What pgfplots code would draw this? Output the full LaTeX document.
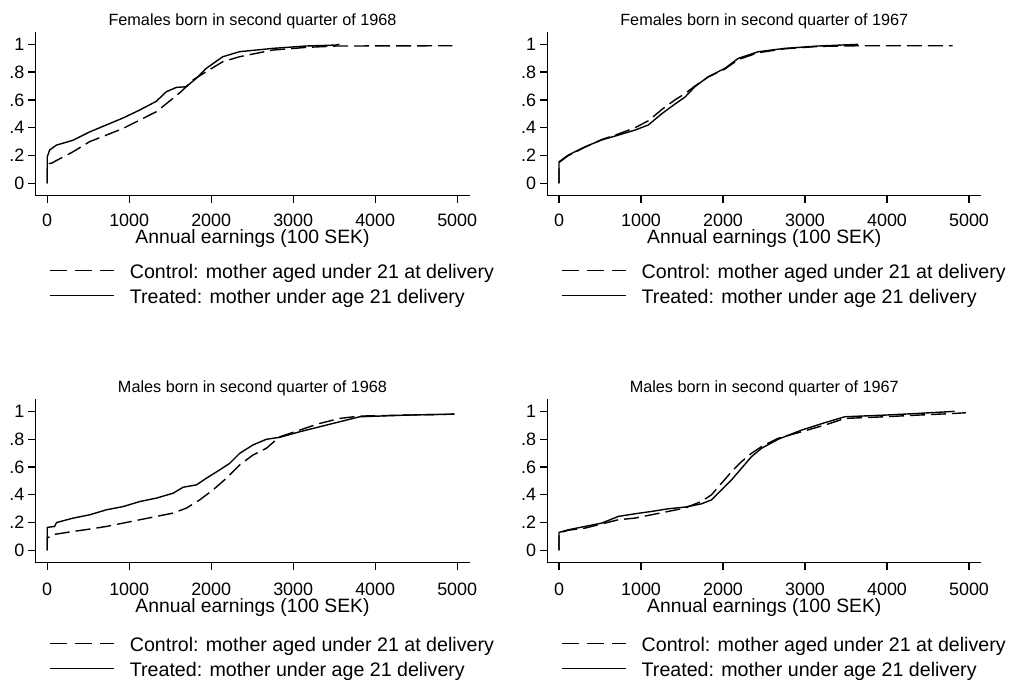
\documentclass[border=0pt]{standalone}
\usepackage{fontspec}
\setmainfont{Liberation Sans}
\usepackage{pgfplots}
\pgfplotsset{compat=1.18}

\pgfplotsset{
  stata/.style={
    width=434bp, height=164bp, scale only axis,
    xmin=-143, xmax=5150, ymin=-0.089, ymax=1.091,
    axis x line*=bottom, axis y line*=left,
    axis line style={line width=1.3bp, black},
    tick align=outside, major tick length=7bp,
    tick style={line width=1.3bp, black},
    xtick={0,1000,2000,3000,4000,5000},
    xticklabels={0,1000,2000,3000,4000,5000},
    ytick={0,0.2,0.4,0.6,0.8,1},
    yticklabels={0,.2,.4,.6,.8,1},
    /pgf/number format/assume math mode=true,
    ticklabel style={font=\fontsize{18}{18}\selectfont},
    xticklabel style={anchor=base, yshift=-23.3bp},
    yticklabel style={anchor=east, inner sep=0pt, xshift=-4bp},
    title style={at={(axis description cs:0.5,1)}, anchor=base, yshift=0.7bp,
      font=\fontsize{16.3}{16.3}\selectfont},
    xlabel={Annual earnings (100 SEK)},
    xlabel style={at={(axis description cs:0.5,0)}, anchor=base, yshift=-47.5bp,
      font=\fontsize{19.4}{19.4}\selectfont},
    legend cell align=left,
    legend image code/.code={\draw[#1] (0bp,2.5bp) -- (64bp,2.5bp);},
    legend style={draw=none, fill=none, inner sep=0pt, outer sep=0pt,
      at={(axis description cs:0,0)}, anchor=north west, xshift=14bp,
      font=\fontsize{19.7}{19.7}\selectfont, row sep=7bp,
      nodes={inner sep=0pt, text height=14bp, text depth=4bp},
      /tikz/every odd column/.append style={column sep=15bp}},
    clip=false,
  },
  lower/.style={
    xticklabel style={yshift=-2bp},
    xlabel style={yshift=-2.5bp},
    legend style={yshift=-74.3bp},
  },
  ctrl/.style={black, line width=1.4bp, dash pattern=on 15bp off 6bp,
    legend image post style={dash pattern=on 17bp off 8bp}},
  treat/.style={black, line width=1.4bp},
}

\begin{document}
\begin{tikzpicture}
\useasboundingbox (0,0) rectangle (1009bp,-689bp);

% top left
\begin{axis}[stata, at={(35.5bp,-195.7bp)}, anchor=south west,
  title={Females born in second quarter of 1968},
  legend style={yshift=-68.3bp}]
\addplot[ctrl] coordinates {
  (0,0) (0,0.14) (51,0.145) (315,0.227) (518,0.30) (721,0.347) (924,0.395)
  (1127,0.455) (1330,0.515) (1533,0.611) (1654,0.671) (1776,0.743) (1939,0.803)
  (2141,0.875) (2345,0.911) (2750,0.959) (3157,0.978) (3522,0.988) (4940,0.99)};
\addlegendentry{Control: mother aged under 21 at delivery}
\addplot[treat] coordinates {
  (0,0) (0,0.19) (30,0.24) (112,0.275) (315,0.31) (518,0.37) (721,0.42)
  (924,0.47) (1127,0.527) (1330,0.59) (1452,0.659) (1574,0.69) (1695,0.695)
  (1817,0.755) (1939,0.827) (2141,0.911) (2345,0.947) (2750,0.971) (3157,0.988)
  (3522,0.995) (3563,1.0)};
\addlegendentry{Treated: mother under age 21 delivery}
\end{axis}

% top right
\begin{axis}[stata, at={(547.3bp,-195.7bp)}, anchor=south west,
  title={Females born in second quarter of 1967},
  legend style={yshift=-68.3bp}]
\addplot[ctrl] coordinates {
  (0,0) (0,0.15) (114,0.2) (317,0.26) (520,0.315) (723,0.355) (926,0.40)
  (1089,0.45) (1251,0.53) (1413,0.6) (1535,0.645) (1657,0.70) (1820,0.765)
  (2022,0.822) (2185,0.89) (2429,0.94) (2753,0.968) (3160,0.985) (3647,0.99)
  (4800,0.99)};
\addlegendentry{Control: mother aged under 21 at delivery}
\addplot[treat] coordinates {
  (0,0) (0,0.155) (114,0.204) (317,0.263) (520,0.312) (723,0.347) (926,0.383)
  (1089,0.42) (1251,0.50) (1413,0.57) (1535,0.62) (1657,0.695) (1820,0.767)
  (2022,0.827) (2185,0.899) (2429,0.947) (2753,0.971) (3160,0.988) (3647,1.0)};
\addlegendentry{Treated: mother under age 21 delivery}
\end{axis}

% bottom left
\begin{axis}[stata, lower, at={(35.5bp,-562.7bp)}, anchor=south west,
  title={Males born in second quarter of 1968}]
\addplot[ctrl] coordinates {
  (0,0) (0,0.09) (40,0.1) (70,0.113) (317,0.136) (520,0.153) (723,0.172)
  (926,0.196) (1129,0.22) (1332,0.244) (1535,0.268) (1698,0.304) (1860,0.363)
  (2022,0.435) (2185,0.519) (2347,0.614) (2509,0.686) (2672,0.734) (2834,0.817)
  (3078,0.865) (3322,0.913) (3566,0.949) (3810,0.966) (4378,0.973) (4966,0.98)};
\addlegendentry{Control: mother aged under 21 at delivery}
\addplot[treat] coordinates {
  (0,0) (0,0.165) (90,0.172) (114,0.2) (317,0.232) (520,0.256) (723,0.292)
  (926,0.315) (1129,0.351) (1332,0.376) (1535,0.411) (1657,0.454) (1820,0.471)
  (1941,0.519) (2104,0.579) (2225,0.626) (2347,0.698) (2509,0.758) (2672,0.799)
  (2834,0.813) (3078,0.853) (3322,0.889) (3566,0.925) (3810,0.961) (4378,0.973)
  (4966,0.98)};
\addlegendentry{Treated: mother under age 21 delivery}
\end{axis}

% bottom right
\begin{axis}[stata, lower, at={(547.3bp,-562.7bp)}, anchor=south west,
  title={Males born in second quarter of 1967}]
\addplot[ctrl] coordinates {
  (0,0) (0,0.125) (114,0.145) (317,0.16) (723,0.22) (926,0.232) (1129,0.256)
  (1535,0.304) (1738,0.352) (1860,0.40) (1982,0.483) (2104,0.566) (2225,0.638)
  (2347,0.698) (2469,0.746) (2672,0.806) (2956,0.853) (3240,0.901) (3484,0.949)
  (3971,0.961) (4378,0.973) (4823,0.985) (4962,0.99)};
\addlegendentry{Control: mother aged under 21 at delivery}
\addplot[treat] coordinates {
  (0,0) (0,0.129) (114,0.148) (317,0.172) (520,0.196) (723,0.244) (926,0.263)
  (1129,0.28) (1332,0.299) (1535,0.311) (1738,0.335) (1860,0.363) (1982,0.435)
  (2104,0.507) (2225,0.59) (2347,0.674) (2469,0.734) (2672,0.799) (2956,0.865)
  (3240,0.918) (3484,0.961) (3971,0.973) (4378,0.985) (4823,1.0)};
\addlegendentry{Treated: mother under age 21 delivery}
\end{axis}
\end{tikzpicture}
\end{document}
